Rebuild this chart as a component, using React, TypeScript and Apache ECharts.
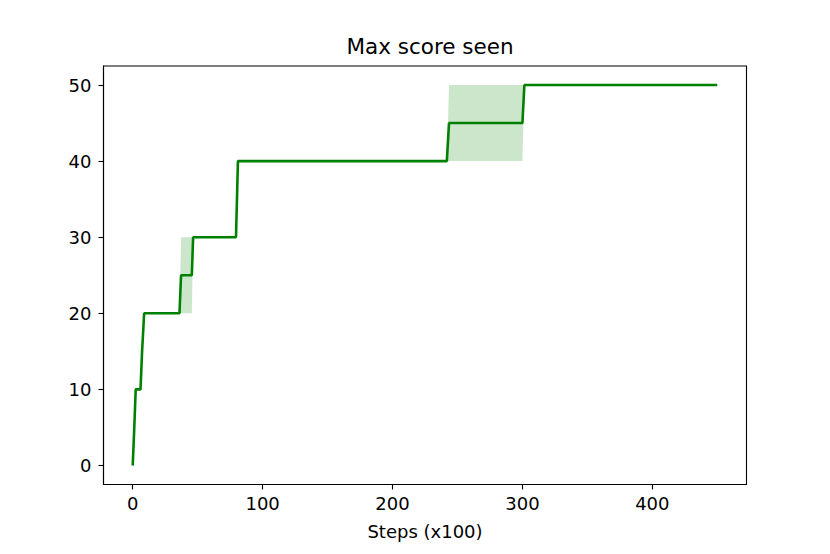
import React, { useEffect, useRef } from "react";
import * as echarts from "echarts";

// Steps (x100) at which the score was recorded
const steps = [0, 1.2, 2.3, 6, 7.2, 8.8, 36, 37.2, 45.5, 46.5, 79.5, 81, 241.8, 243.5, 300, 301.5, 450];
// Mean of max score seen
const meanScore = [0, 5, 10, 10, 15, 20, 20, 25, 25, 30, 30, 40, 40, 45, 45, 50, 50];
// Lower / upper bounds of the shaded band
const lowerScore = [0, 5, 10, 10, 15, 20, 20, 20, 20, 30, 30, 40, 40, 40, 40, 50, 50];
const upperScore = [0, 5, 10, 10, 15, 20, 20, 30, 30, 30, 30, 40, 40, 50, 50, 50, 50];

const xTicks = [0, 100, 200, 300, 400];
const yTicks = [0, 10, 20, 30, 40, 50];

const FONT = "DejaVu Sans";

export default function App() {
  const ref = useRef<HTMLDivElement>(null);
  useEffect(() => {
    if (!ref.current) return;
    const chart = echarts.init(ref.current, undefined, { renderer: "svg" });
    const meanData = steps.map((s, i) => [s, meanScore[i]]);
    chart.setOption({
      animation: false,
      backgroundColor: "#fff",
      title: {
        text: "Max score seen",
        left: 425,
        textAlign: "center",
        top: 30,
        textStyle: { fontFamily: FONT, fontSize: 21.5, fontWeight: "normal", color: "#000" },
      },
      grid: {
        left: 103.5,
        right: 83.5,
        top: 66,
        bottom: 69.5,
        show: true,
        borderColor: "#000",
        borderWidth: 1.1,
        backgroundColor: "transparent",
      },
      xAxis: {
        type: "value",
        min: -22.5,
        max: 472.5,
        name: "Steps (x100)",
        nameLocation: "middle",
        nameGap: 38,
        nameTextStyle: { fontFamily: FONT, fontSize: 18, color: "#000" },
        axisLine: { show: true, onZero: false, lineStyle: { color: "#000", width: 1.1 } },
        axisTick: { show: true, length: 5, customValues: xTicks, lineStyle: { color: "#000", width: 1.1 } },
        axisLabel: { customValues: xTicks, fontFamily: FONT, fontSize: 18, color: "#000", margin: 10 },
        splitLine: { show: false },
      },
      yAxis: {
        type: "value",
        min: -2.5,
        max: 52.5,
        axisLine: { show: true, onZero: false, lineStyle: { color: "#000", width: 1.1 } },
        axisTick: { show: true, length: 5, customValues: yTicks, lineStyle: { color: "#000", width: 1.1 } },
        axisLabel: { customValues: yTicks, fontFamily: FONT, fontSize: 18, color: "#000", margin: 12 },
        splitLine: { show: false },
      },
      series: [
        {
          type: "custom",
          data: [[0, 0]],
          silent: true,
          z: 1,
          renderItem: (params: any, api: any) => {
            const pts: number[][] = [];
            for (let i = 0; i < steps.length; i++) pts.push(api.coord([steps[i], upperScore[i]]));
            for (let i = steps.length - 1; i >= 0; i--) pts.push(api.coord([steps[i], lowerScore[i]]));
            return {
              type: "polygon",
              shape: { points: pts },
              style: { fill: "rgba(0,128,0,0.2)", stroke: "none" },
            };
          },
        },
        {
          type: "line",
          data: meanData,
          symbol: "none",
          lineStyle: { color: "#008000", width: 2.6 },
          z: 5,
        },
      ],
    });
    return () => chart.dispose();
  }, []);
  return (
    <div
      ref={ref}
      style={{ position: "fixed", left: 0, top: 0, width: 830, height: 554, background: "#fff" }}
    />
  );
}
